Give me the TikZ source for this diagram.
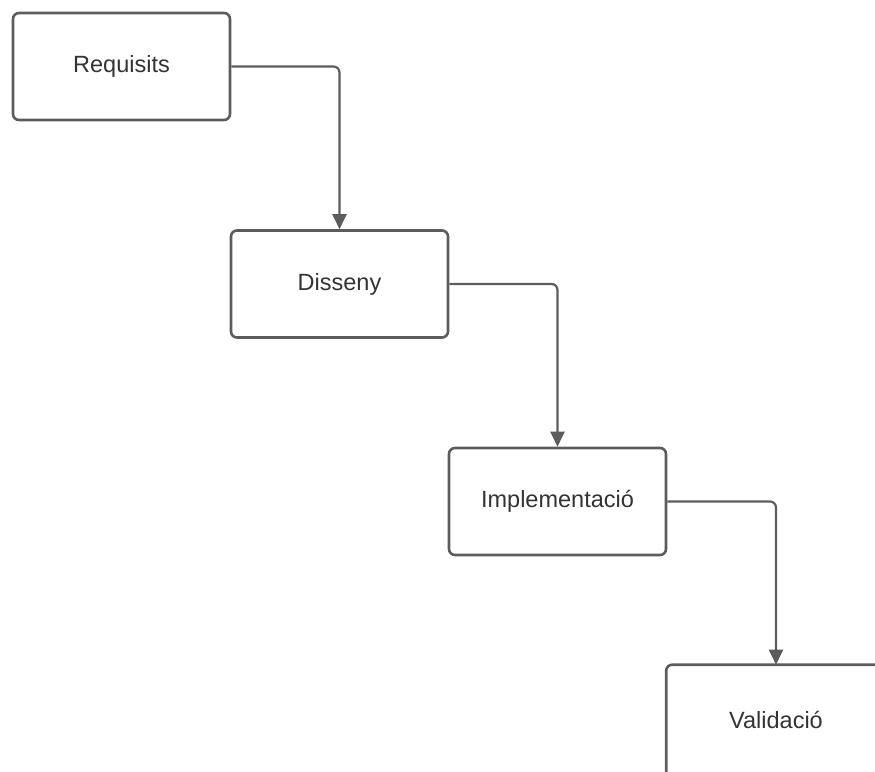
\documentclass[tikz,border=0pt]{standalone}
\usepackage{fontspec}
\setmainfont{Liberation Sans}
\usetikzlibrary{arrows.meta}
\definecolor{edgegray}{HTML}{5C5C5C}
\definecolor{textgray}{HTML}{333333}
\tikzset{
  frame/.style={draw=edgegray, line width=2.6pt, rounded corners=6pt},
  stage/.style={frame, minimum width=217pt, minimum height=107pt, text=textgray,
    font=\fontsize{23.5}{28}\selectfont},
  flow/.style={draw=edgegray, line width=2.2pt, rounded corners=6pt,
    -{Triangle[width=14pt,length=15pt]}}
}
\begin{document}
\begin{tikzpicture}[x=1pt,y=-1pt]
  \path[use as bounding box] (0,0) rectangle (875,771);
  \begin{scope}
  \clip (0,0) rectangle (875,771);
  \node[stage] (R) at (121.5,66.5) {Requisits};
  \node[stage] (D) at (339.5,284) {Disseny};
  \node[stage] (I) at (557.5,501.5) {Implementació};
  \node[stage, draw=none] (V) at (776,719.5) {Validació};
  % last box runs off the page
  \draw[frame] ([yshift=-30pt]V.south west) |- ([xshift=30pt]V.north east);
  \draw[flow] (R.east) -| (D.north);
  \draw[flow] (D.east) -| (I.north);
  \draw[flow] (I.east) -| (V.north);
  \end{scope}
\end{tikzpicture}
\end{document}
